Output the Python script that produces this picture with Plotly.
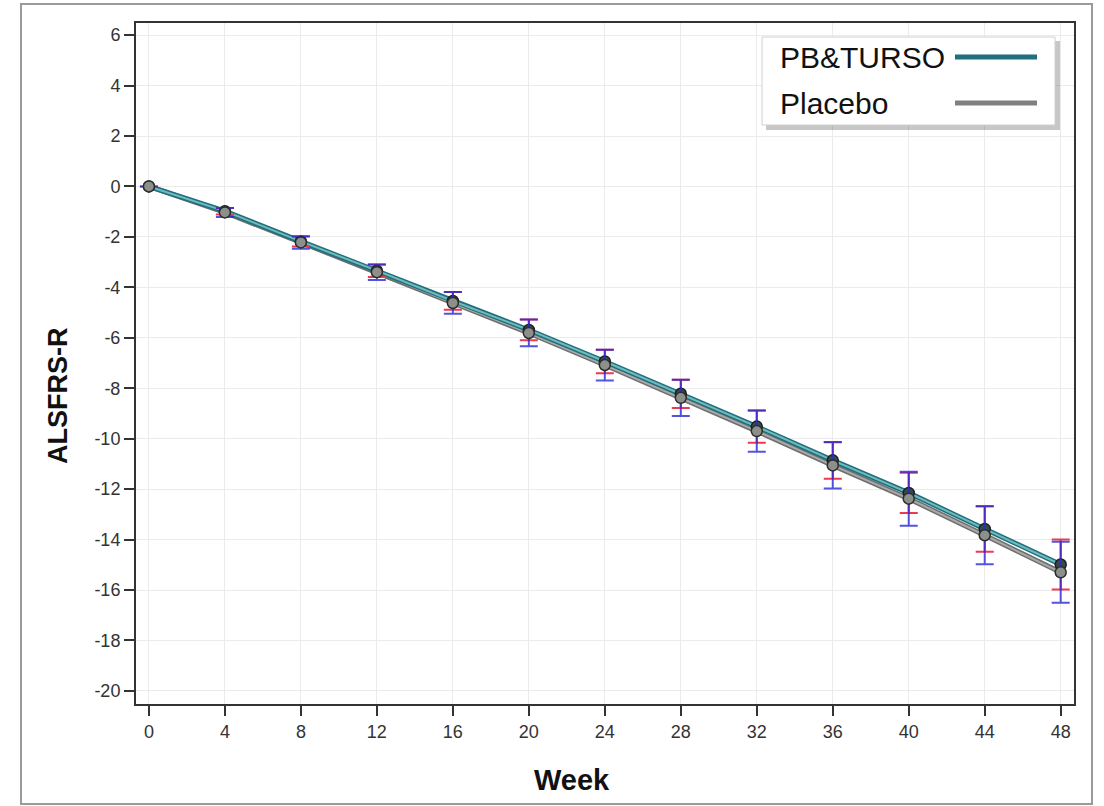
import plotly.graph_objects as go

# ALSFRS-R change from baseline by study week
weeks = [0, 4, 8, 12, 16, 20, 24, 28, 32, 36, 40, 44, 48]
pb_turso = [0, -0.98, -2.18, -3.34, -4.54, -5.69, -6.94, -8.22, -9.52, -10.86, -12.15, -13.58, -14.99]
pb_turso_se = [0, 0.13, 0.20, 0.25, 0.35, 0.41, 0.47, 0.56, 0.64, 0.73, 0.80, 0.90, 0.99]
placebo = [0, -1.03, -2.22, -3.40, -4.62, -5.81, -7.08, -8.38, -9.70, -11.06, -12.38, -13.83, -15.30]
placebo_se = [0, 0.18, 0.25, 0.31, 0.43, 0.53, 0.61, 0.72, 0.82, 0.92, 1.07, 1.15, 1.21]

series_names = ["PB&TURSO", "Placebo"]
x_ticks = list(range(0, 49, 4))
y_ticks = list(range(-20, 7, 2))

W, H = 1104, 806
ML, MR, MT, MB = 136, 30, 23, 102
PW, PH = W - ML - MR, H - MT - MB


def px_x(p):
    return (p - ML) / PW


def px_y(p):
    return (H - MB - p) / PH


TEAL_DARK = "#1f6f7e"
TEAL_LIGHT = "#6fbcbc"
GRAY_DARK = "#6e6e6e"
GRAY_LIGHT = "#a9a9a9"
RED = "#ee3a4e"
BLUE = "rgba(40,40,216,0.8)"
FONT = "Liberation Sans, Arial"

fig = go.Figure()

# trend lines: darker outline with a lighter core
for y, dark, light in [(placebo, GRAY_DARK, GRAY_LIGHT), (pb_turso, TEAL_DARK, TEAL_LIGHT)]:
    fig.add_trace(go.Scatter(x=weeks, y=y, mode="lines", line=dict(color=dark, width=5),
                             showlegend=False, hoverinfo="skip"))
    fig.add_trace(go.Scatter(x=weeks, y=y, mode="lines", line=dict(color=light, width=2),
                             showlegend=False, hoverinfo="skip"))

# means with standard-error bars
fig.add_trace(go.Scatter(
    x=weeks, y=pb_turso, mode="markers", name=series_names[0], showlegend=False,
    marker=dict(size=11, color="#34494f", line=dict(color="#1e1e1e", width=1.5)),
    error_y=dict(type="data", array=pb_turso_se, color=RED, thickness=2, width=9),
))
fig.add_trace(go.Scatter(
    x=weeks, y=placebo, mode="markers", name=series_names[1], showlegend=False,
    marker=dict(size=11, color="#8c8f8a", line=dict(color="#2d2d2d", width=1.5)),
    error_y=dict(type="data", array=placebo_se, color=BLUE, thickness=2, width=9),
))

shapes = []
# outer frame
shapes.append(dict(type="rect", xref="paper", yref="paper",
                   x0=px_x(21), x1=px_x(1092), y0=px_y(804), y1=px_y(4),
                   line=dict(color="#9a9a9a", width=2), layer="below"))
# legend box with drop shadow
shapes.append(dict(type="rect", xref="paper", yref="paper",
                   x0=px_x(766), x1=px_x(1060), y0=px_y(130), y1=px_y(41),
                   line=dict(width=0), fillcolor="rgba(0,0,0,0.22)"))
shapes.append(dict(type="rect", xref="paper", yref="paper",
                   x0=px_x(762), x1=px_x(1055), y0=px_y(125), y1=px_y(37),
                   line=dict(color="#d0d0d0", width=1), fillcolor="white"))
annotations = []
for name, color, yy in [(series_names[0], TEAL_DARK, 57), (series_names[1], "#808080", 103)]:
    shapes.append(dict(type="line", xref="paper", yref="paper",
                       x0=px_x(955), x1=px_x(1037), y0=px_y(yy), y1=px_y(yy),
                       line=dict(color=color, width=5)))
    annotations.append(dict(text=name, xref="paper", yref="paper", x=px_x(778), y=px_y(yy),
                            xanchor="left", yanchor="middle", showarrow=False,
                            font=dict(family=FONT, size=30, color="#111111")))

# axis titles
annotations.append(dict(text="<b>ALSFRS-R</b>", xref="paper", yref="paper", x=px_x(58), y=px_y(396),
                        textangle=-90, showarrow=False, xanchor="center", yanchor="middle",
                        font=dict(family=FONT, size=27, color="#111111")))
annotations.append(dict(text="<b>Week</b>", xref="paper", yref="paper", x=px_x(572), y=px_y(780),
                        showarrow=False, xanchor="center", yanchor="middle",
                        font=dict(family=FONT, size=29, color="#111111")))

axis_common = dict(
    showline=True, linecolor="#333333", linewidth=2, mirror=True,
    showgrid=True, gridcolor="#ebebeb", gridwidth=1,
    ticks="outside", ticklen=10, tickwidth=1.5, tickcolor="#333333",
    zeroline=False,
    tickfont=dict(family=FONT, size=18, color="#333333"),
)

fig.update_layout(
    width=W, height=H,
    margin=dict(l=ML, r=MR, t=MT, b=MB),
    paper_bgcolor="white", plot_bgcolor="white",
    showlegend=False,
    shapes=shapes, annotations=annotations,
    xaxis=dict(range=[-0.68, 48.7], tickvals=x_ticks, ticktext=[str(v) for v in x_ticks], **axis_common),
    yaxis=dict(range=[-20.52, 6.48], tickvals=y_ticks, ticktext=[str(v) for v in y_ticks], **axis_common),
)

fig.write_html("out.html")
